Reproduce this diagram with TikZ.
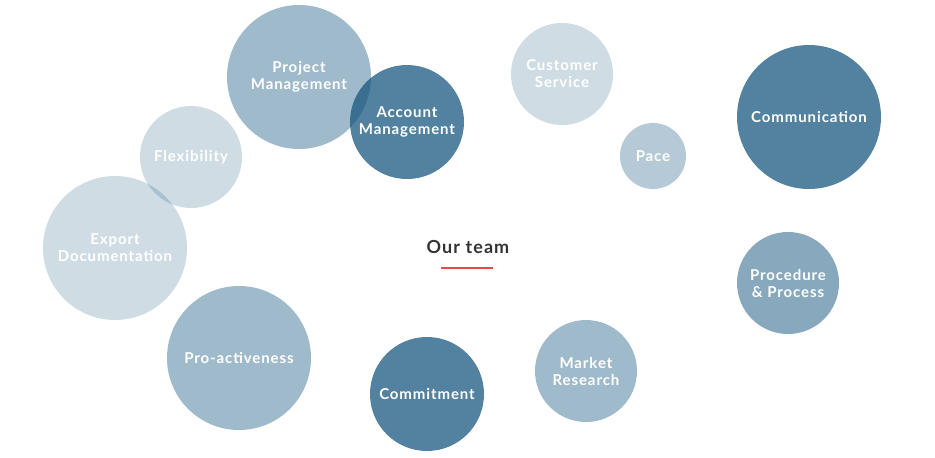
\documentclass[tikz,border=0pt]{standalone}
\usepackage{fontspec}
\setmainfont{Lato}
\newfontfamily\bubfont[LetterSpace=6]{Lato}
\definecolor{base}{RGB}{20,85,125}
\definecolor{teamtext}{RGB}{51,51,51}
\definecolor{redline}{RGB}{232,72,76}
\begin{document}
\begin{tikzpicture}[x=1pt,y=-1pt,
  bub/.style={circle,fill=base,inner sep=0pt,text=white,font=\bubfont\fontsize{15}{17}\selectfont\bfseries,align=center},
  dark/.style={bub,fill opacity=0.736,text opacity=1},
  mid/.style={bub,fill opacity=0.409,text opacity=1},
  light/.style={bub,fill opacity=0.204,text opacity=1},
  pacec/.style={bub,fill opacity=0.315,text opacity=1},
  proc/.style={bub,fill opacity=0.51,text opacity=1}]
\useasboundingbox (0,0) rectangle (935,458);
\node[mid,minimum size=144pt] (pm) at (299,77) {Project\\Management};
\node[dark,minimum size=114pt] (am) at (407,122) {Account\\Management};
\node[light,minimum size=102pt] (fl) at (191,157) {Flexibility};
\node[light,minimum size=144pt] (ed) at (115,248) {Export\\Documentation};
\node[mid,minimum size=144pt] (pa) at (239,358) {Pro-activeness};
\node[dark,minimum size=114pt] (cm) at (427,394) {Commitment};
\node[mid,minimum size=102pt] (mr) at (586,371) {Market\\Research};
\node[light,minimum size=102pt] (cs) at (562,74) {Customer\\Service};
\node[pacec,minimum size=66pt] (pc) at (653,156) {Pace};
\node[dark,minimum size=144pt] (co) at (809,117) {Communication};
\node[proc,minimum size=102pt] (pp) at (788,283) {Procedure\\\& Process};
\node[font=\bubfont\fontsize{18}{20}\selectfont\bfseries,text=teamtext,inner sep=0pt] (ot) at (468,247) {Our team};
\coordinate (l1) at (441,268);
\coordinate (l2) at (493,268);
\draw[redline,line width=2pt] (l1) -- (l2);
\end{tikzpicture}
\end{document}
